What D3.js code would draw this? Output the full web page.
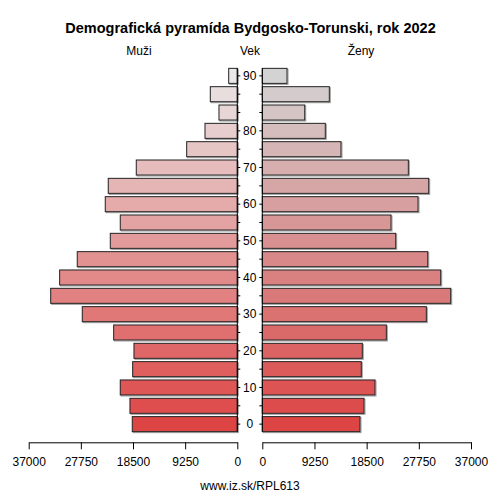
<!DOCTYPE html>
<html>
<head>
<meta charset="utf-8">
<script src="https://cdn.jsdelivr.net/npm/d3@7"></script>
<style>
  body { margin: 0; background: #fff; }
  svg text { font-family: "Liberation Sans", Arial, sans-serif; fill: #000; }
  .axis path, .axis line { stroke: #000; }
</style>
</head>
<body>
<svg id="chart" width="500" height="500"></svg>
<script>
// age group index 0 (youngest) .. 19 (oldest)
var ageGroups = d3.range(20);
var ageTickIdx = [0, 2, 4, 6, 8, 10, 12, 14, 16, 19];
var ageTickLabels = ["0", "10", "20", "30", "40", "50", "60", "70", "80", "90"];

var muzi = [18630, 19040, 20760, 18560, 18330, 21930, 27500, 33100, 31510, 28390,
            22530, 20760, 23420, 22890, 17920, 8980, 5730, 3250, 4790, 1525];
var zeny = [17320, 18030, 19980, 17550, 17730, 21990, 29080, 33400, 31630, 29330,
            23650, 22820, 27610, 29500, 25890, 13950, 11170, 7520, 11880, 4380];

var xTicks = [0, 9250, 18500, 27750, 37000];
var xMax = 37000;

var svg = d3.select("#chart");

var y = d3.scaleBand()
    .domain(ageGroups.slice().reverse())
    .range([66.7, 433.3])
    .paddingInner(0.18)
    .paddingOuter(0.09);

var xLeft = d3.scaleLinear().domain([0, xMax]).range([237.3, 28.7]);
var xRight = d3.scaleLinear().domain([0, xMax]).range([262.3, 471]);

var colMuzi = d3.scaleLinear().domain([0, 19]).range(["#dd4545", "#e9e7e7"]);
var colZeny = d3.scaleLinear().domain([0, 19]).range(["#dd4545", "#d3d3d3"]);

function DrawSide(values, xs, colorScale, isLeft) {
    var g = svg.append("g");
    var rows = g.selectAll("g.row")
        .data(values)
        .enter().append("g")
        .attr("class", "row");

    // soft gray shadow behind each bar
    rows.append("rect")
        .attr("x", function(d) { return (isLeft ? xs(d) : xs(0)) + 1; })
        .attr("y", function(d, i) { return y(i) + 1; })
        .attr("width", function(d) { return Math.abs(xs(d) - xs(0)); })
        .attr("height", y.bandwidth())
        .attr("fill", "none")
        .attr("stroke", "#999")
        .attr("stroke-width", 1);

    rows.append("rect")
        .attr("x", function(d) { return isLeft ? xs(d) : xs(0); })
        .attr("y", function(d, i) { return y(i); })
        .attr("width", function(d) { return Math.abs(xs(d) - xs(0)); })
        .attr("height", y.bandwidth())
        .attr("fill", function(d, i) { return colorScale(i); })
        .attr("stroke", "#222")
        .attr("stroke-width", 1);
}

DrawSide(muzi, xLeft, colMuzi, true);
DrawSide(zeny, xRight, colZeny, false);

// vertical age axes
var yTop = y(19), yBot = y(0) + y.bandwidth();
svg.append("g").attr("class", "axis")
    .attr("transform", "translate(237.3,0)")
    .call(d3.axisRight(y).tickSize(3).tickSizeOuter(0).tickFormat(""))
    .select(".domain").attr("d", "M0," + yTop + "V" + yBot);
svg.append("g").attr("class", "axis")
    .attr("transform", "translate(262.3,0)")
    .call(d3.axisLeft(y).tickSize(3).tickSizeOuter(0).tickFormat(""))
    .select(".domain").attr("d", "M0," + yTop + "V" + yBot);

svg.append("g").selectAll("text")
    .data(ageTickIdx)
    .enter().append("text")
    .attr("x", 249.8)
    .attr("y", function(d) { return y(d) + y.bandwidth() / 2; })
    .attr("dy", "0.36em")
    .attr("text-anchor", "middle")
    .style("font-size", "12px")
    .text(function(d, i) { return ageTickLabels[i]; });

// bottom value axes
var fmt = d3.format("d");
[xLeft, xRight].forEach(function(xs) {
    var ax = svg.append("g").attr("class", "axis")
        .attr("transform", "translate(0,442.3)")
        .call(d3.axisBottom(xs).tickValues(xTicks).tickSize(7).tickSizeOuter(0).tickFormat(fmt));
    ax.selectAll("text").style("font-size", "12px").attr("dy", "1.15em");
    ax.select(".domain").attr("stroke", "#000");
});

// titles
svg.append("text")
    .attr("x", 250.5).attr("y", 33)
    .attr("text-anchor", "middle")
    .style("font-size", "14.5px").style("font-weight", "bold")
    .text("Demografická pyramída Bydgosko-Torunski, rok 2022");

svg.append("text").attr("x", 139).attr("y", 55).attr("text-anchor", "middle")
    .style("font-size", "12px").text("Muži");
svg.append("text").attr("x", 250).attr("y", 55).attr("text-anchor", "middle")
    .style("font-size", "12px").text("Vek");
svg.append("text").attr("x", 361).attr("y", 55).attr("text-anchor", "middle")
    .style("font-size", "12px").text("Ženy");

svg.append("text").attr("x", 250).attr("y", 489.5).attr("text-anchor", "middle")
    .style("font-size", "12px").text("www.iz.sk/RPL613");
</script>
</body>
</html>
